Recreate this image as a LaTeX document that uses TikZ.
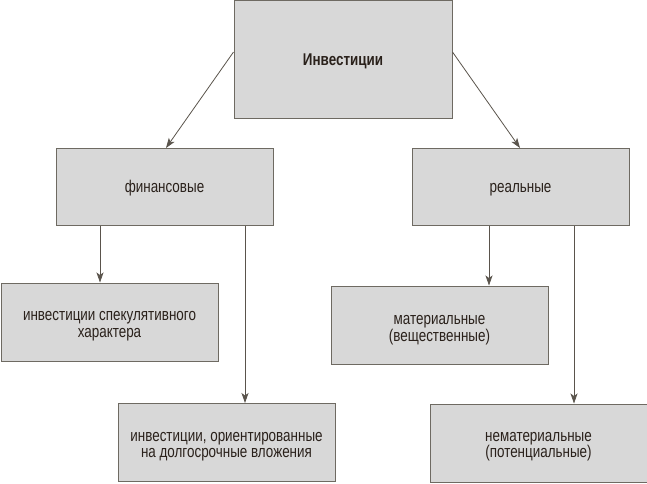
\documentclass[tikz,border=0pt]{standalone}
\usepackage{fontspec}
\setmainfont[FakeStretch=0.79]{Liberation Sans}
\usetikzlibrary{arrows.meta}
\definecolor{boxfill}{HTML}{D8D8D8}
\definecolor{boxline}{HTML}{6E6A62}
\definecolor{txt}{HTML}{2A211B}
\definecolor{arr}{HTML}{5A544C}
\begin{document}
\begin{tikzpicture}[x=1pt,y=-1pt,
  blk/.style={draw=boxline,fill=boxfill,line width=1pt,inner sep=0pt},
  lbl/.style={text=txt,align=center,anchor=base,inner sep=0pt,
    font=\fontsize{17}{16.5}\selectfont},
  con/.style={draw=arr,line width=0.8pt,-{Stealth[length=10pt,width=7pt,inset=2.5pt]}}]
\useasboundingbox (0,0) rectangle (647,483);
\node[blk,minimum width=218pt,minimum height=118pt] (inv) at (343,59.5) {};
\node[blk,minimum width=217pt,minimum height=77pt] (fin) at (164.5,186.5) {};
\node[blk,minimum width=217pt,minimum height=77pt] (real) at (520.5,186.5) {};
\node[blk,minimum width=217pt,minimum height=78pt] (spec) at (109.5,322) {};
\node[blk,minimum width=217pt,minimum height=78pt] (long) at (226.5,442.5) {};
\node[blk,minimum width=217pt,minimum height=78pt] (mat) at (439.5,325) {};
\node[blk,minimum width=217pt,minimum height=78pt] (nemat) at (538.5,443) {};
\node[lbl,font=\bfseries\fontsize{17}{16.5}\selectfont] (tinv) at (343,65) {Инвестиции};
\node[lbl] (tfin) at (164.5,192) {финансовые};
\node[lbl] (treal) at (520.5,192.5) {реальные};
\node[lbl] (tspec) at (109.5,337) {инвестиции спекулятивного\\характера};
\node[lbl] (tlong) at (226.5,457.5) {инвестиции, ориентированные\\на долгосрочные вложения};
\node[lbl] (tmat) at (439.5,341) {материальные\\(вещественные)};
\node[lbl] (tnemat) at (538.5,457.5) {нематериальные\\(потенциальные)};
\coordinate (finA) at (166,148);
\coordinate (realA) at (520,148);
\draw[con] (inv.west |- 0,52) -- (finA);
\draw[con] (inv.east |- 0,52) -- (realA);
\draw[con] (fin.south -| 100,0) -- (spec.north -| 100,0);
\draw[con] (fin.south -| 245,0) -- (long.north -| 245,0);
\draw[con] (real.south -| 489,0) -- (mat.north -| 489,0);
\draw[con] (real.south -| 574,0) -- (nemat.north -| 574,0);
\end{tikzpicture}
\end{document}
